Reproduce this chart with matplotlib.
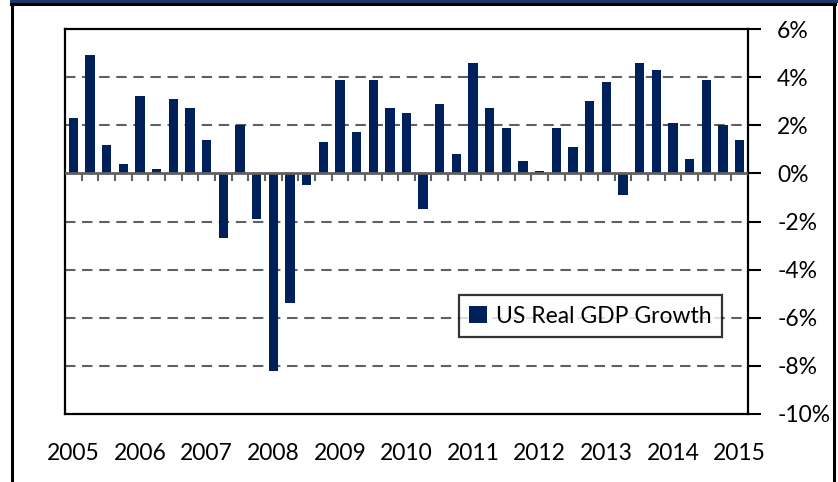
import numpy as np
import matplotlib
matplotlib.use("Agg")
import matplotlib.pyplot as plt
from matplotlib.patches import Rectangle
from matplotlib.lines import Line2D
from matplotlib.ticker import FixedLocator, FuncFormatter

# ---- data: US real GDP growth, quarterly 2005Q1 .. 2015Q1 (annualised %) ----
gdp_growth = [2.3, 4.9, 1.2, 0.4,   # 2005
              3.2, 0.2, 3.1, 2.7,   # 2006
              1.4, -2.7, 2.0, -1.9, # 2007
              -8.2, -5.4, -0.5, 1.3,# 2008
              3.9, 1.7, 3.9, 2.7,   # 2009
              2.5, -1.5, 2.9, 0.8,  # 2010
              4.6, 2.7, 1.9, 0.5,   # 2011
              0.1, 1.9, 1.1, 3.0,   # 2012
              3.8, -0.9, 4.6, 4.3,  # 2013
              2.1, 0.6, 3.9, 2.0,   # 2014
              1.4]                  # 2015
year_labels = [str(y) for y in range(2005, 2016)]
y_ticks = [6, 4, 2, 0, -2, -4, -6, -8, -10]
series_name = "US Real GDP Growth"

bar_color = "#00205B"
grid_color = "#606060"

plt.rcParams['font.family'] = ['Lato', 'DejaVu Sans']

W, H = 838, 482
fig = plt.figure(figsize=(W / 100, H / 100), dpi=100)

# outer frame
fig.add_artist(Rectangle((10 / W, 1 - 2.5 / H), 1, 3 / H, transform=fig.transFigure,
                         facecolor="#1F3864", edgecolor="none"))
fig.add_artist(Line2D([12 / W, 12 / W], [0, 1 - 4 / H], transform=fig.transFigure,
                      color="black", lw=2.2))
fig.add_artist(Line2D([833.5 / W, 833.5 / W], [0, 1 - 4 / H], transform=fig.transFigure,
                      color="black", lw=2.2))
fig.add_artist(Line2D([11 / W, 834.5 / W], [1 - 4 / H, 1 - 4 / H], transform=fig.transFigure,
                      color="black", lw=2.2))

ax = fig.add_axes([65 / W, 1 - 414 / H, (748 - 65) / W, (414 - 29) / H])

n = len(gdp_growth)
x = np.arange(n)
ax.bar(x, gdp_growth, width=0.56, color=bar_color, label=series_name, zorder=3)

ax.set_xlim(-0.5, n - 0.5)
ax.set_ylim(-10, 6)

# dashed gridlines
for v in y_ticks:
    if v not in (0, 6, -10):
        ax.axhline(v, color=grid_color, lw=1.5, ls=(0, (5, 3.2)), zorder=1)
# zero line with category-boundary ticks
ax.axhline(0, color=grid_color, lw=2.0, zorder=4)
tick_len = 8 / 24.08
ax.vlines(np.arange(1, n) - 0.5, -tick_len, 0, color=grid_color, lw=1.5, zorder=4)

# y axis on the right
ax.yaxis.tick_right()
ax.yaxis.set_major_locator(FixedLocator(y_ticks))
ax.yaxis.set_major_formatter(FuncFormatter(lambda v, p: f"{int(v)}%"))
ax.tick_params(axis='y', direction='out', length=9, width=1.5, color='black',
               labelsize=16.5, pad=12)
for lab in ax.get_yticklabels():
    lab.set_horizontalalignment('left')

# x axis year labels below the plot
ax.set_xticks(x[::4])
ax.set_xticklabels(year_labels)
ax.tick_params(axis='x', length=0, labelsize=16.5, pad=21)

for s in ax.spines.values():
    s.set_color('black')
    s.set_linewidth(1.6)

leg = ax.legend(loc='lower left', bbox_to_anchor=(0.577, 0.2), frameon=True,
                fancybox=False, edgecolor='black', fontsize=16.5,
                handlelength=0.75, handleheight=0.75, handletextpad=0.4,
                borderpad=0.45, borderaxespad=0)
leg.get_frame().set_linewidth(1.6)

fig.savefig("out.png", dpi=100)
